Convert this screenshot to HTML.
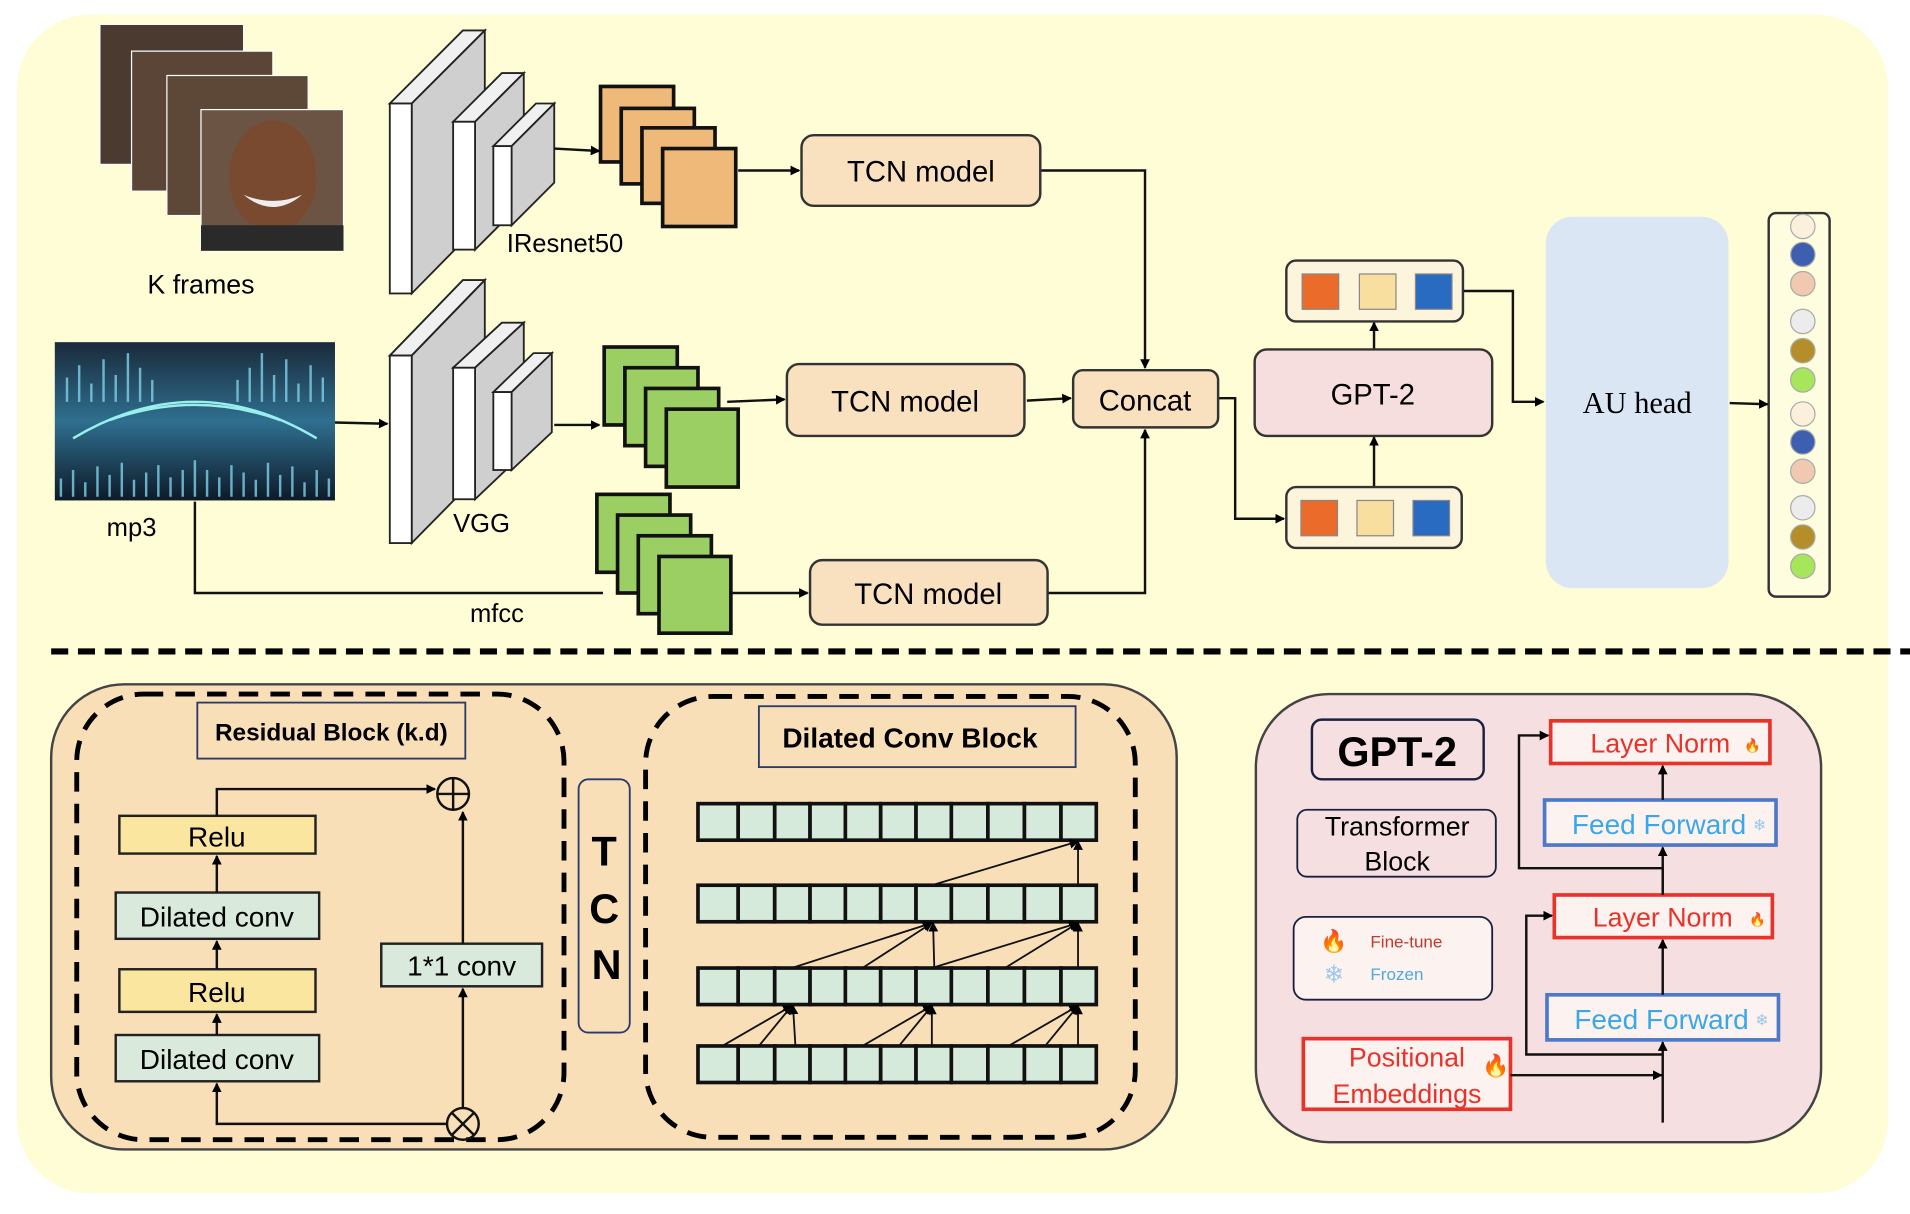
<!DOCTYPE html>
<html><head><meta charset="utf-8"><style>
html,body{margin:0;padding:0;background:#fff}
svg{display:block}
text{font-family:"Liberation Sans",sans-serif}
</style></head><body>
<svg width="1910" height="1214" viewBox="0 0 1568 997" preserveAspectRatio="none" xmlns="http://www.w3.org/2000/svg">
<defs>
<marker id="a" markerWidth="8" markerHeight="8" refX="7" refY="4" orient="auto" markerUnits="userSpaceOnUse"><path d="M0,0 L8,4 L0,8 z" fill="#000"/></marker>
<linearGradient id="sp" x1="0" y1="0" x2="0" y2="1"><stop offset="0" stop-color="#1a2a3a"/><stop offset="0.5" stop-color="#2f6f8f"/><stop offset="1" stop-color="#0e1a28"/></linearGradient>
<g id="row" fill="#d6eadb" stroke="#111" stroke-width="3"><rect x="573" y="0" width="33" height="30"/><rect x="606" y="0" width="30" height="30"/><rect x="636" y="0" width="29" height="30"/><rect x="665" y="0" width="29" height="30"/><rect x="694" y="0" width="29" height="30"/><rect x="723" y="0" width="29" height="30"/><rect x="752" y="0" width="29" height="30"/><rect x="781" y="0" width="30" height="30"/><rect x="811" y="0" width="30" height="30"/><rect x="841" y="0" width="30" height="30"/><rect x="871" y="0" width="29" height="30"/></g>
</defs>
<rect x="14" y="12" width="1536" height="968" rx="60" fill="#fefdd5"/>

<!-- frames -->
<g stroke="#fff" stroke-width="1">
<rect x="82" y="20" width="118" height="115" fill="#4a3a30"/>
<rect x="108" y="42" width="116" height="115" fill="#5a4536"/>
<rect x="137" y="62" width="116" height="115" fill="#5d4838"/>
<rect x="165" y="90" width="117" height="116" fill="#6b5444"/>
</g>
<ellipse cx="224" cy="145" rx="36" ry="46" fill="#7a4a30"/>
<path d="M200 160 Q224 180 248 160 Q224 170 200 160z" fill="#eee"/>
<rect x="165" y="185" width="117" height="21" fill="#2a2a2a"/>
<text x="165" y="241" font-size="22" text-anchor="middle">K frames</text>

<!-- slabs -->
<g stroke="#222" stroke-width="1.5">
<polygon points="320,85 380,25 398,25 338,85" fill="#f0f0f0"/><polygon points="338,85 398,25 398,180 338,241" fill="#cfcfcf"/><rect x="320" y="85" width="18" height="156" fill="#fff"/>
<polygon points="372,100 412,60 430,60 390,100" fill="#f0f0f0"/><polygon points="390,100 430,60 430,165 390,205" fill="#cfcfcf"/><rect x="372" y="100" width="18" height="105" fill="#fff"/>
<polygon points="405,120 440,85 455,85 420,120" fill="#f0f0f0"/><polygon points="420,120 455,85 455,150 420,185" fill="#cfcfcf"/><rect x="405" y="120" width="15" height="65" fill="#fff"/>

<polygon points="320,292 380,230 398,230 338,292" fill="#f0f0f0"/><polygon points="338,292 398,230 398,385 338,446" fill="#cfcfcf"/><rect x="320" y="292" width="18" height="154" fill="#fff"/>
<polygon points="372,302 412,265 430,265 390,302" fill="#f0f0f0"/><polygon points="390,302 430,265 430,372 390,410" fill="#cfcfcf"/><rect x="372" y="302" width="18" height="108" fill="#fff"/>
<polygon points="405,322 438,290 453,290 420,322" fill="#f0f0f0"/><polygon points="420,322 453,290 453,355 420,386" fill="#cfcfcf"/><rect x="405" y="322" width="15" height="64" fill="#fff"/>
</g>
<text x="416" y="207" font-size="21">IResnet50</text>
<text x="372" y="437" font-size="21">VGG</text>

<!-- orange stack -->
<g fill="#efb97a" stroke="#111" stroke-width="3">
<rect x="493" y="71" width="60" height="62"/><rect x="510" y="89" width="60" height="62"/><rect x="527" y="105" width="60" height="62"/><rect x="544" y="122" width="60" height="64"/>
</g>
<!-- green stacks -->
<g fill="#9bcf63" stroke="#111" stroke-width="3">
<rect x="496" y="285" width="60" height="64"/><rect x="513" y="302" width="60" height="64"/><rect x="530" y="319" width="60" height="64"/><rect x="547" y="336" width="59" height="64"/>
</g>

<!-- mp3 -->
<rect x="45" y="281" width="230" height="130" fill="url(#sp)"/>
<g stroke="#7fd0e8" stroke-width="2" opacity="0.8">
<path d="M55 330 v-20 M65 330 v-30 M75 330 v-15 M85 330 v-35 M95 330 v-22 M105 330 v-40 M115 330 v-28 M125 330 v-18 M195 330 v-18 M205 330 v-28 M215 330 v-40 M225 330 v-22 M235 330 v-35 M245 330 v-15 M255 330 v-30 M265 330 v-20"/>
<path d="M50 408 v-15 M60 408 v-22 M70 408 v-12 M80 408 v-25 M90 408 v-18 M100 408 v-28 M110 408 v-14 M120 408 v-20 M130 408 v-26 M140 408 v-16 M150 408 v-22 M160 408 v-30 M170 408 v-22 M180 408 v-16 M190 408 v-26 M200 408 v-20 M210 408 v-14 M220 408 v-28 M230 408 v-18 M240 408 v-25 M250 408 v-12 M260 408 v-22 M270 408 v-15"/>
</g>
<path d="M60 360 Q160 300 260 360 M90 345 Q160 320 230 345" stroke="#9ee" stroke-width="2" fill="none"/>
<text x="108" y="440" font-size="21" text-anchor="middle">mp3</text>

<!-- mp3 line and mfcc -->
<polyline points="160,412 160,487 495,487" fill="none" stroke="#111" stroke-width="2"/>
<g fill="#9bcf63" stroke="#111" stroke-width="3">
<rect x="490" y="406" width="60" height="64"/><rect x="507" y="423" width="60" height="64"/><rect x="524" y="440" width="60" height="64"/><rect x="541" y="457" width="59" height="63"/>
</g>
<text x="408" y="511" font-size="21" text-anchor="middle">mfcc</text>

<!-- arrows top -->
<g stroke="#111" stroke-width="2" fill="none" marker-end="url(#a)">
<line x1="455" y1="122" x2="492" y2="124"/>
<line x1="606" y1="140" x2="656" y2="140"/>
<polyline points="854,140 940,140 940,302"/>
<line x1="275" y1="347" x2="318" y2="348"/>
<line x1="455" y1="349" x2="492" y2="349"/>
<line x1="597" y1="330" x2="644" y2="328"/>
<line x1="843" y1="329" x2="879" y2="327"/>
<line x1="600" y1="487" x2="663" y2="487"/>
<polyline points="860,487 940,487 940,353"/>
<polyline points="1000,327 1014,327 1014,426 1054,426"/>
<line x1="1128" y1="400" x2="1128" y2="359"/>
<line x1="1128" y1="287" x2="1128" y2="265"/>
<polyline points="1201,239 1242,239 1242,330 1267,330"/>
<line x1="1420" y1="331" x2="1451" y2="332"/>
</g>

<g fill="#f9e0bf" stroke="#333" stroke-width="2">
<rect x="658" y="111" width="196" height="58" rx="10"/>
<rect x="646" y="299" width="195" height="59" rx="10"/>
<rect x="665" y="460" width="195" height="53" rx="10"/>
<rect x="881" y="304" width="119" height="47" rx="8"/>
</g>
<g font-size="24" text-anchor="middle">
<text x="756" y="149">TCN model</text>
<text x="743" y="338">TCN model</text>
<text x="762" y="496">TCN model</text>
<text x="940" y="337">Concat</text>
</g>

<rect x="1030" y="287" width="195" height="71" rx="10" fill="#f7dede" stroke="#333" stroke-width="2"/>
<text x="1127" y="332" font-size="24" text-anchor="middle">GPT-2</text>
<g stroke="#333" stroke-width="2">
<rect x="1056" y="214" width="145" height="50" rx="8" fill="#fdf4dc"/>
<rect x="1056" y="400" width="144" height="50" rx="8" fill="#fdf4dc"/>
</g>
<g stroke="#888" stroke-width="1">
<rect x="1069" y="225" width="30" height="29" fill="#ea6b2a"/><rect x="1116" y="225" width="30" height="29" fill="#f8dfa0"/><rect x="1162" y="225" width="30" height="29" fill="#2a6bc2"/>
<rect x="1068" y="411" width="30" height="29" fill="#ea6b2a"/><rect x="1114" y="411" width="30" height="29" fill="#f8dfa0"/><rect x="1160" y="411" width="30" height="29" fill="#2a6bc2"/>
</g>
<rect x="1269" y="178" width="150" height="305" rx="22" fill="#dbe6f5"/>
<text x="1344" y="339" font-size="25" text-anchor="middle" style="font-family:'Liberation Serif',serif">AU head</text>
<rect x="1452" y="175" width="50" height="315" rx="6" fill="#fefde0" stroke="#333" stroke-width="2"/>
<g stroke="#aaa" stroke-width="1">
<circle cx="1480" cy="186" r="10" fill="#fbf0dc"/><circle cx="1480" cy="209" r="10" fill="#3e5fb0"/><circle cx="1480" cy="233" r="10" fill="#f0c9b0"/>
<circle cx="1480" cy="264" r="10" fill="#ececec"/><circle cx="1480" cy="288" r="10" fill="#b58e2a"/><circle cx="1480" cy="312" r="10" fill="#a6e65a"/>
<circle cx="1480" cy="340" r="10" fill="#fbf0dc"/><circle cx="1480" cy="363" r="10" fill="#3e5fb0"/><circle cx="1480" cy="387" r="10" fill="#f0c9b0"/>
<circle cx="1480" cy="417" r="10" fill="#ececec"/><circle cx="1480" cy="441" r="10" fill="#b58e2a"/><circle cx="1480" cy="465" r="10" fill="#a6e65a"/>
</g>

<line x1="42" y1="535" x2="1568" y2="535" stroke="#000" stroke-width="5" stroke-dasharray="14 8"/>

<!-- TCN panel -->
<rect x="42" y="562" width="924" height="382" rx="60" fill="#f9dfb8" stroke="#444" stroke-width="2"/>
<rect x="63" y="570" width="400" height="366" rx="55" fill="none" stroke="#000" stroke-width="4" stroke-dasharray="16 10"/>
<rect x="530" y="572" width="402" height="362" rx="55" fill="none" stroke="#000" stroke-width="4" stroke-dasharray="16 10"/>
<rect x="162" y="577" width="220" height="46" fill="none" stroke="#2a3a6a" stroke-width="1.5"/>
<text x="272" y="608" font-size="20" font-weight="bold" text-anchor="middle">Residual Block (k.d)</text>
<g stroke="#222" stroke-width="2">
<rect x="98" y="670" width="161" height="31" fill="#fbe6a0"/>
<rect x="95" y="733" width="167" height="38" fill="#d9eadc"/>
<rect x="98" y="796" width="161" height="35" fill="#fbe6a0"/>
<rect x="95" y="850" width="167" height="38" fill="#d9eadc"/>
<rect x="313" y="775" width="132" height="35" fill="#d9eadc"/>
</g>
<g font-size="23" text-anchor="middle">
<text x="178" y="695">Relu</text><text x="178" y="761">Dilated conv</text>
<text x="178" y="823">Relu</text><text x="178" y="878">Dilated conv</text>
<text x="379" y="801">1*1 conv</text>
</g>
<g stroke="#111" stroke-width="2" fill="none" marker-end="url(#a)">
<line x1="178" y1="850" x2="178" y2="833"/><line x1="178" y1="796" x2="178" y2="773"/><line x1="178" y1="733" x2="178" y2="703"/>
<polyline points="178,670 178,648 357,648"/>
<line x1="380" y1="775" x2="380" y2="667"/>
<line x1="380" y1="910" x2="380" y2="812"/>
<polyline points="367,923 178,923 178,890"/>
</g>
<g stroke="#111" stroke-width="2" fill="none">
<circle cx="372" cy="652" r="13"/><path d="M359 652 h26 M372 639 v26"/>
<circle cx="380" cy="923" r="13"/><path d="M371 914 l18 18 M389 914 l-18 18"/>
</g>
<rect x="475" y="640" width="42" height="208" rx="8" fill="none" stroke="#2a3a6a" stroke-width="1.5"/>
<g font-size="34" font-weight="bold" text-anchor="middle"><text x="496" y="711">T</text><text x="496" y="758">C</text><text x="498" y="804">N</text></g>
<rect x="623" y="580" width="260" height="50" fill="none" stroke="#2a3a6a" stroke-width="1.5"/>
<text x="747" y="614" font-size="23" font-weight="bold" text-anchor="middle">Dilated Conv Block</text>
<use href="#row" y="660"/><use href="#row" y="727"/><use href="#row" y="795"/><use href="#row" y="859"/>
<g stroke="#111" stroke-width="1.5" fill="none" marker-end="url(#a)">
<line x1="593" y1="859" x2="650" y2="826"/><line x1="623" y1="859" x2="650" y2="826"/><line x1="653" y1="859" x2="651" y2="826"/>
<line x1="708" y1="859" x2="765" y2="826"/><line x1="738" y1="859" x2="765" y2="826"/><line x1="765" y1="859" x2="765" y2="826"/>
<line x1="828" y1="859" x2="885" y2="826"/><line x1="858" y1="859" x2="885" y2="826"/><line x1="885" y1="859" x2="885" y2="826"/>
<line x1="650" y1="795" x2="765" y2="758"/><line x1="708" y1="795" x2="765" y2="758"/><line x1="767" y1="795" x2="766" y2="758"/>
<line x1="765" y1="795" x2="885" y2="758"/><line x1="825" y1="795" x2="885" y2="758"/><line x1="885" y1="795" x2="885" y2="758"/>
<line x1="765" y1="727" x2="885" y2="691"/><line x1="885" y1="727" x2="885" y2="691"/>
</g>

<!-- GPT panel -->
<rect x="1031" y="570" width="464" height="368" rx="60" fill="#f5dfe0" stroke="#444" stroke-width="2"/>
<rect x="1077" y="591" width="141" height="49" rx="8" fill="none" stroke="#1a2040" stroke-width="2"/>
<text x="1147" y="629" font-size="34" font-weight="bold" text-anchor="middle">GPT-2</text>
<rect x="1065" y="665" width="163" height="55" rx="8" fill="none" stroke="#1a2040" stroke-width="1.5"/>
<text x="1147" y="686" font-size="22" text-anchor="middle">Transformer</text>
<text x="1147" y="715" font-size="22" text-anchor="middle">Block</text>
<rect x="1062" y="753" width="163" height="68" rx="10" fill="#fcf3f0" stroke="#1a2040" stroke-width="1.5"/>
<text x="1095" y="779" font-size="18" text-anchor="middle" fill="#f05a20">🔥</text>
<text x="1125" y="778" font-size="14" fill="#c0392b">Fine-tune</text>
<text x="1095" y="807" font-size="20" text-anchor="middle" fill="#9cc8ec">❄</text>
<text x="1125" y="805" font-size="14" fill="#4fa8e0">Frozen</text>
<g fill="#fcf3f0" stroke-width="3">
<rect x="1070" y="853" width="170" height="58" stroke="#e8332a"/>
<rect x="1273" y="592" width="180" height="35" stroke="#e8332a"/>
<rect x="1276" y="735" width="179" height="35" stroke="#e8332a"/>
<rect x="1268" y="657" width="190" height="37" stroke="#4c79c8"/>
<rect x="1270" y="817" width="190" height="37" stroke="#4c79c8"/>
</g>
<g font-size="22" text-anchor="middle" fill="#e8332a">
<text x="1363" y="618">Layer Norm</text><text x="1365" y="761">Layer Norm</text>
<text x="1155" y="876">Positional</text><text x="1155" y="906">Embeddings</text>
</g>
<g font-size="11" fill="#f06a20"><text x="1432" y="616">🔥</text><text x="1436" y="759">🔥</text></g>
<text x="1217" y="881" font-size="18" fill="#f06a20">🔥</text>
<g font-size="23" text-anchor="middle" fill="#3aa8e8">
<text x="1362" y="685">Feed Forward</text><text x="1364" y="845">Feed Forward</text>
</g>
<g font-size="13" fill="#9cc8ec"><text x="1439" y="682">❄</text><text x="1441" y="842">❄</text></g>
<g stroke="#111" stroke-width="2" fill="none" marker-end="url(#a)">
<line x1="1365" y1="922" x2="1365" y2="856"/>
<line x1="1240" y1="883" x2="1364" y2="883"/>
<polyline points="1365,866 1253,866 1253,752 1274,752"/>
<line x1="1365" y1="817" x2="1365" y2="772"/>
<line x1="1365" y1="735" x2="1365" y2="696"/>
<polyline points="1365,735 1365,713 1247,713 1247,604 1271,604"/>
<line x1="1365" y1="657" x2="1365" y2="629"/>
</g>
</svg>
</body></html>
